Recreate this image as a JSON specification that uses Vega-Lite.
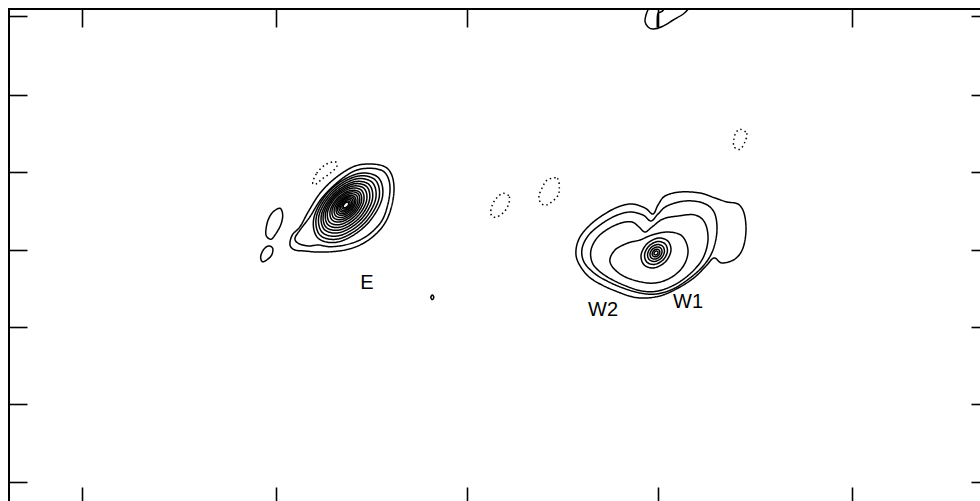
{
"$schema": "https://vega.github.io/schema/vega-lite/v6.json",
"width": 980, "height": 496,
"padding": {"left": 9, "top": 9, "right": 0, "bottom": 0},
"autosize": {"type": "none"},
"background": "white",
"config": {
 "view": {"stroke": "black", "strokeWidth": 2},
 "axis": {"labels": false, "domain": false, "grid": false, "ticks": true, "tickSize": -18, "tickColor": "black", "tickWidth": 1.6, "title": null}
},
"datasets": {
"closed": [
{"c":"E1","s":"p","o":0,"x":-113.7,"y":83.3},{"c":"E1","s":"p","o":1,"x":-98.7,"y":86},{"c":"E1","s":"p","o":2,"x":-83.7,"y":84},{"c":"E1","s":"p","o":3,"x":-76,"y":76.7},{"c":"E1","s":"p","o":4,"x":-73,"y":63.3},{"c":"E1","s":"p","o":5,"x":-74.7,"y":46.7},{"c":"E1","s":"p","o":6,"x":-80.3,"y":30},{"c":"E1","s":"p","o":7,"x":-90.3,"y":16.7},{"c":"E1","s":"p","o":8,"x":-103.7,"y":6.7},{"c":"E1","s":"p","o":9,"x":-118.7,"y":0.7},{"c":"E1","s":"p","o":10,"x":-135.3,"y":-1.7},{"c":"E1","s":"p","o":11,"x":-150.3,"y":-2},{"c":"E1","s":"p","o":12,"x":-162,"y":-1},{"c":"E1","s":"p","o":13,"x":-172,"y":0},{"c":"E1","s":"p","o":14,"x":-177,"y":5},{"c":"E1","s":"p","o":15,"x":-174.7,"y":15},{"c":"E1","s":"p","o":16,"x":-167,"y":23.3},{"c":"E1","s":"p","o":17,"x":-158.7,"y":38.3},{"c":"E1","s":"p","o":18,"x":-147,"y":56.7},{"c":"E1","s":"p","o":19,"x":-132,"y":71.7},
{"c":"E2","s":"p","o":0,"x":-112,"y":79.3},{"c":"E2","s":"p","o":1,"x":-97,"y":81.7},{"c":"E2","s":"p","o":2,"x":-84.7,"y":79.3},{"c":"E2","s":"p","o":3,"x":-78.7,"y":71.7},{"c":"E2","s":"p","o":4,"x":-77,"y":60},{"c":"E2","s":"p","o":5,"x":-79.3,"y":45},{"c":"E2","s":"p","o":6,"x":-84.7,"y":30},{"c":"E2","s":"p","o":7,"x":-94.7,"y":18.3},{"c":"E2","s":"p","o":8,"x":-107,"y":10},{"c":"E2","s":"p","o":9,"x":-122,"y":5},{"c":"E2","s":"p","o":10,"x":-137,"y":3.3},{"c":"E2","s":"p","o":11,"x":-148.7,"y":5},{"c":"E2","s":"p","o":12,"x":-158.7,"y":4},{"c":"E2","s":"p","o":13,"x":-168.7,"y":6.7},{"c":"E2","s":"p","o":14,"x":-172,"y":11.7},{"c":"E2","s":"p","o":15,"x":-167,"y":20},{"c":"E2","s":"p","o":16,"x":-157,"y":33.3},{"c":"E2","s":"p","o":17,"x":-145.3,"y":51.7},{"c":"E2","s":"p","o":18,"x":-128.7,"y":68.3},
{"c":"E4","s":"p","o":0,"x":-88.7,"y":72.4},{"c":"E4","s":"p","o":1,"x":-110.1,"y":76.1},{"c":"E4","s":"p","o":2,"x":-136.7,"y":60},{"c":"E4","s":"p","o":3,"x":-152.8,"y":33.4},{"c":"E4","s":"p","o":4,"x":-149.1,"y":12},{"c":"E4","s":"p","o":5,"x":-127.7,"y":8.3},{"c":"E4","s":"p","o":6,"x":-101.2,"y":24.5},{"c":"E4","s":"p","o":7,"x":-85,"y":51},
{"c":"E5","s":"p","o":0,"x":-91.7,"y":70},{"c":"E5","s":"p","o":1,"x":-111.3,"y":73.4},{"c":"E5","s":"p","o":2,"x":-135.5,"y":58.6},{"c":"E5","s":"p","o":3,"x":-150.3,"y":34.4},{"c":"E5","s":"p","o":4,"x":-146.9,"y":14.8},{"c":"E5","s":"p","o":5,"x":-127.3,"y":11.4},{"c":"E5","s":"p","o":6,"x":-103.1,"y":26.2},{"c":"E5","s":"p","o":7,"x":-88.3,"y":50.4},
{"c":"E6","s":"p","o":0,"x":-94.7,"y":67.6},{"c":"E6","s":"p","o":1,"x":-112.4,"y":70.7},{"c":"E6","s":"p","o":2,"x":-134.4,"y":57.3},{"c":"E6","s":"p","o":3,"x":-147.8,"y":35.3},{"c":"E6","s":"p","o":4,"x":-144.7,"y":17.6},{"c":"E6","s":"p","o":5,"x":-127,"y":14.5},{"c":"E6","s":"p","o":6,"x":-105,"y":27.9},{"c":"E6","s":"p","o":7,"x":-91.6,"y":49.9},
{"c":"E7","s":"p","o":0,"x":-97.7,"y":65.2},{"c":"E7","s":"p","o":1,"x":-113.6,"y":68},{"c":"E7","s":"p","o":2,"x":-133.3,"y":56},{"c":"E7","s":"p","o":3,"x":-145.3,"y":36.3},{"c":"E7","s":"p","o":4,"x":-142.5,"y":20.4},{"c":"E7","s":"p","o":5,"x":-126.6,"y":17.6},{"c":"E7","s":"p","o":6,"x":-106.9,"y":29.6},{"c":"E7","s":"p","o":7,"x":-94.9,"y":49.3},
{"c":"E8","s":"p","o":0,"x":-100.2,"y":63.3},{"c":"E8","s":"p","o":1,"x":-114.6,"y":65.8},{"c":"E8","s":"p","o":2,"x":-132.4,"y":54.9},{"c":"E8","s":"p","o":3,"x":-143.3,"y":37.1},{"c":"E8","s":"p","o":4,"x":-140.8,"y":22.7},{"c":"E8","s":"p","o":5,"x":-126.4,"y":20.3},{"c":"E8","s":"p","o":6,"x":-108.6,"y":31.1},{"c":"E8","s":"p","o":7,"x":-97.8,"y":48.9},
{"c":"E9","s":"p","o":0,"x":-102.8,"y":61.4},{"c":"E9","s":"p","o":1,"x":-115.6,"y":63.6},{"c":"E9","s":"p","o":2,"x":-131.6,"y":54},{"c":"E9","s":"p","o":3,"x":-141.2,"y":38},{"c":"E9","s":"p","o":4,"x":-139,"y":25.2},{"c":"E9","s":"p","o":5,"x":-126.2,"y":23},{"c":"E9","s":"p","o":6,"x":-110.3,"y":32.7},{"c":"E9","s":"p","o":7,"x":-100.6,"y":48.6},
{"c":"E10","s":"p","o":0,"x":-105.4,"y":59.6},{"c":"E10","s":"p","o":1,"x":-116.7,"y":61.5},{"c":"E10","s":"p","o":2,"x":-130.7,"y":53},{"c":"E10","s":"p","o":3,"x":-139.2,"y":39},{"c":"E10","s":"p","o":4,"x":-137.3,"y":27.7},{"c":"E10","s":"p","o":5,"x":-125.9,"y":25.7},{"c":"E10","s":"p","o":6,"x":-111.9,"y":34.2},{"c":"E10","s":"p","o":7,"x":-103.4,"y":48.2},
{"c":"E11","s":"p","o":0,"x":-107.4,"y":57.7},{"c":"E11","s":"p","o":1,"x":-117.2,"y":59.4},{"c":"E11","s":"p","o":2,"x":-129.3,"y":52},{"c":"E11","s":"p","o":3,"x":-136.7,"y":39.9},{"c":"E11","s":"p","o":4,"x":-135,"y":30.1},{"c":"E11","s":"p","o":5,"x":-125.2,"y":28.4},{"c":"E11","s":"p","o":6,"x":-113.1,"y":35.8},{"c":"E11","s":"p","o":7,"x":-105.7,"y":47.9},
{"c":"E12","s":"p","o":0,"x":-109,"y":56.3},{"c":"E12","s":"p","o":1,"x":-117.6,"y":57.8},{"c":"E12","s":"p","o":2,"x":-128.2,"y":51.3},{"c":"E12","s":"p","o":3,"x":-134.7,"y":40.7},{"c":"E12","s":"p","o":4,"x":-133.2,"y":32.1},{"c":"E12","s":"p","o":5,"x":-124.6,"y":30.7},{"c":"E12","s":"p","o":6,"x":-114,"y":37.1},{"c":"E12","s":"p","o":7,"x":-107.6,"y":47.7},
{"c":"E13","s":"p","o":0,"x":-110.7,"y":54.7},{"c":"E13","s":"p","o":1,"x":-118,"y":56},{"c":"E13","s":"p","o":2,"x":-127.1,"y":50.5},{"c":"E13","s":"p","o":3,"x":-132.6,"y":41.4},{"c":"E13","s":"p","o":4,"x":-131.3,"y":34.1},{"c":"E13","s":"p","o":5,"x":-124,"y":32.8},{"c":"E13","s":"p","o":6,"x":-114.9,"y":38.3},{"c":"E13","s":"p","o":7,"x":-109.4,"y":47.4},
{"c":"E14","s":"p","o":0,"x":-112.4,"y":53.2},{"c":"E14","s":"p","o":1,"x":-118.5,"y":54.3},{"c":"E14","s":"p","o":2,"x":-126.1,"y":49.7},{"c":"E14","s":"p","o":3,"x":-130.7,"y":42.1},{"c":"E14","s":"p","o":4,"x":-129.6,"y":36},{"c":"E14","s":"p","o":5,"x":-123.5,"y":34.9},{"c":"E14","s":"p","o":6,"x":-115.9,"y":39.5},{"c":"E14","s":"p","o":7,"x":-111.3,"y":47.1},
{"c":"E15","s":"p","o":0,"x":-113.7,"y":52.1},{"c":"E15","s":"p","o":1,"x":-118.9,"y":53},{"c":"E15","s":"p","o":2,"x":-125.3,"y":49.1},{"c":"E15","s":"p","o":3,"x":-129.2,"y":42.7},{"c":"E15","s":"p","o":4,"x":-128.3,"y":37.5},{"c":"E15","s":"p","o":5,"x":-123.1,"y":36.6},{"c":"E15","s":"p","o":6,"x":-116.7,"y":40.5},{"c":"E15","s":"p","o":7,"x":-112.8,"y":46.9},
{"c":"E16","s":"p","o":0,"x":-115,"y":51},{"c":"E16","s":"p","o":1,"x":-119.2,"y":51.8},{"c":"E16","s":"p","o":2,"x":-124.6,"y":48.6},{"c":"E16","s":"p","o":3,"x":-127.8,"y":43.2},{"c":"E16","s":"p","o":4,"x":-127,"y":39},{"c":"E16","s":"p","o":5,"x":-122.8,"y":38.2},{"c":"E16","s":"p","o":6,"x":-117.5,"y":41.5},{"c":"E16","s":"p","o":7,"x":-114.2,"y":46.8},
{"c":"E17","s":"p","o":0,"x":-116.3,"y":49.7},{"c":"E17","s":"p","o":1,"x":-119.6,"y":50.3},{"c":"E17","s":"p","o":2,"x":-123.8,"y":47.8},{"c":"E17","s":"p","o":3,"x":-126.3,"y":43.6},{"c":"E17","s":"p","o":4,"x":-125.7,"y":40.3},{"c":"E17","s":"p","o":5,"x":-122.4,"y":39.7},{"c":"E17","s":"p","o":6,"x":-118.2,"y":42.2},{"c":"E17","s":"p","o":7,"x":-115.7,"y":46.4},
{"c":"E18","s":"p","o":0,"x":-117.6,"y":48.5},{"c":"E18","s":"p","o":1,"x":-120,"y":48.9},{"c":"E18","s":"p","o":2,"x":-123,"y":47},{"c":"E18","s":"p","o":3,"x":-124.9,"y":44},{"c":"E18","s":"p","o":4,"x":-124.5,"y":41.6},{"c":"E18","s":"p","o":5,"x":-122,"y":41.1},{"c":"E18","s":"p","o":6,"x":-119,"y":43},{"c":"E18","s":"p","o":7,"x":-117.1,"y":46},
{"c":"E19","s":"p","o":0,"x":-118.6,"y":47.4},{"c":"E19","s":"p","o":1,"x":-120.3,"y":47.7},{"c":"E19","s":"p","o":2,"x":-122.4,"y":46.4},{"c":"E19","s":"p","o":3,"x":-123.7,"y":44.3},{"c":"E19","s":"p","o":4,"x":-123.4,"y":42.6},{"c":"E19","s":"p","o":5,"x":-121.7,"y":42.3},{"c":"E19","s":"p","o":6,"x":-119.6,"y":43.6},{"c":"E19","s":"p","o":7,"x":-118.3,"y":45.7},
{"c":"EL1","s":"p","o":0,"x":-193.7,"y":38.3},{"c":"EL1","s":"p","o":1,"x":-187,"y":41.7},{"c":"EL1","s":"p","o":2,"x":-184.3,"y":35},{"c":"EL1","s":"p","o":3,"x":-186.3,"y":25},{"c":"EL1","s":"p","o":4,"x":-192,"y":15},{"c":"EL1","s":"p","o":5,"x":-196.3,"y":10.7},{"c":"EL1","s":"p","o":6,"x":-201,"y":15},{"c":"EL1","s":"p","o":7,"x":-200.3,"y":25},{"c":"EL1","s":"p","o":8,"x":-197.7,"y":32.7},
{"c":"EL2","s":"p","o":0,"x":-198.7,"y":4},{"c":"EL2","s":"p","o":1,"x":-194.3,"y":1.7},{"c":"EL2","s":"p","o":2,"x":-195.3,"y":-5},{"c":"EL2","s":"p","o":3,"x":-200.3,"y":-10},{"c":"EL2","s":"p","o":4,"x":-204.7,"y":-11.7},{"c":"EL2","s":"p","o":5,"x":-206.3,"y":-6.7},{"c":"EL2","s":"p","o":6,"x":-203.7,"y":0},
{"c":"ED","s":"n","o":0,"x":-154.3,"y":67.3},{"c":"ED","s":"n","o":1,"x":-150.3,"y":76.7},{"c":"ED","s":"n","o":2,"x":-142,"y":85},{"c":"ED","s":"n","o":3,"x":-132,"y":88.3},{"c":"ED","s":"n","o":4,"x":-130.3,"y":83.3},{"c":"ED","s":"n","o":5,"x":-137,"y":76.7},{"c":"ED","s":"n","o":6,"x":-145.3,"y":70.7},{"c":"ED","s":"n","o":7,"x":-151,"y":66},
{"c":"DOT","s":"p","o":0,"x":-34.7,"y":-45},{"c":"DOT","s":"p","o":1,"x":-33.2,"y":-47.3},{"c":"DOT","s":"p","o":2,"x":-34.7,"y":-49.6},{"c":"DOT","s":"p","o":3,"x":-36.2,"y":-47.3},
{"c":"MD1","s":"n","o":0,"x":36.3,"y":56.7},{"c":"MD1","s":"n","o":1,"x":42.3,"y":53.3},{"c":"MD1","s":"n","o":2,"x":41.3,"y":45},{"c":"MD1","s":"n","o":3,"x":36.3,"y":37.3},{"c":"MD1","s":"n","o":4,"x":28,"y":32.7},{"c":"MD1","s":"n","o":5,"x":23.7,"y":36.7},{"c":"MD1","s":"n","o":6,"x":25.7,"y":46},{"c":"MD1","s":"n","o":7,"x":30.3,"y":52.7},
{"c":"MD2","s":"n","o":0,"x":80.3,"y":70},{"c":"MD2","s":"n","o":1,"x":90.3,"y":71.7},{"c":"MD2","s":"n","o":2,"x":92.3,"y":60.7},{"c":"MD2","s":"n","o":3,"x":89.7,"y":52.7},{"c":"MD2","s":"n","o":4,"x":79.7,"y":45},{"c":"MD2","s":"n","o":5,"x":73.7,"y":47.3},{"c":"MD2","s":"n","o":6,"x":72,"y":54},{"c":"MD2","s":"n","o":7,"x":75.7,"y":63.3},
{"c":"UD","s":"n","o":0,"x":273,"y":120.7},{"c":"UD","s":"n","o":1,"x":279.7,"y":116.7},{"c":"UD","s":"n","o":2,"x":278,"y":108.3},{"c":"UD","s":"n","o":3,"x":273,"y":100.7},{"c":"UD","s":"n","o":4,"x":267,"y":103.3},{"c":"UD","s":"n","o":5,"x":267,"y":111.7},{"c":"UD","s":"n","o":6,"x":269,"y":117.3},
{"c":"W1","s":"p","o":0,"x":111,"y":-12},{"c":"W1","s":"p","o":1,"x":109,"y":0},{"c":"W1","s":"p","o":2,"x":113,"y":13},{"c":"W1","s":"p","o":3,"x":123,"y":25},{"c":"W1","s":"p","o":4,"x":136,"y":35},{"c":"W1","s":"p","o":5,"x":151,"y":43},{"c":"W1","s":"p","o":6,"x":165,"y":46},{"c":"W1","s":"p","o":7,"x":178,"y":42},{"c":"W1","s":"p","o":8,"x":186,"y":36},{"c":"W1","s":"p","o":9,"x":191,"y":45},{"c":"W1","s":"p","o":10,"x":198,"y":54},{"c":"W1","s":"p","o":11,"x":213,"y":58},{"c":"W1","s":"p","o":12,"x":233,"y":57},{"c":"W1","s":"p","o":13,"x":248,"y":52},{"c":"W1","s":"p","o":14,"x":260,"y":48},{"c":"W1","s":"p","o":15,"x":271,"y":46},{"c":"W1","s":"p","o":16,"x":277,"y":37},{"c":"W1","s":"p","o":17,"x":279,"y":20},{"c":"W1","s":"p","o":18,"x":276,"y":2},{"c":"W1","s":"p","o":19,"x":268,"y":-9},{"c":"W1","s":"p","o":20,"x":255,"y":-13},{"c":"W1","s":"p","o":21,"x":247,"y":-8},{"c":"W1","s":"p","o":22,"x":239,"y":-16},{"c":"W1","s":"p","o":23,"x":228,"y":-27},{"c":"W1","s":"p","o":24,"x":213,"y":-37},{"c":"W1","s":"p","o":25,"x":196,"y":-45},{"c":"W1","s":"p","o":26,"x":180,"y":-48},{"c":"W1","s":"p","o":27,"x":166,"y":-47},{"c":"W1","s":"p","o":28,"x":151,"y":-42},{"c":"W1","s":"p","o":29,"x":135,"y":-35},{"c":"W1","s":"p","o":30,"x":121,"y":-26},
{"c":"W2","s":"p","o":0,"x":117,"y":-12},{"c":"W2","s":"p","o":1,"x":115,"y":1},{"c":"W2","s":"p","o":2,"x":121,"y":14},{"c":"W2","s":"p","o":3,"x":133,"y":25},{"c":"W2","s":"p","o":4,"x":148,"y":34},{"c":"W2","s":"p","o":5,"x":163,"y":38},{"c":"W2","s":"p","o":6,"x":176,"y":35},{"c":"W2","s":"p","o":7,"x":184,"y":29},{"c":"W2","s":"p","o":8,"x":191,"y":36},{"c":"W2","s":"p","o":9,"x":200,"y":44},{"c":"W2","s":"p","o":10,"x":218,"y":49},{"c":"W2","s":"p","o":11,"x":236,"y":47},{"c":"W2","s":"p","o":12,"x":247,"y":38},{"c":"W2","s":"p","o":13,"x":250,"y":20},{"c":"W2","s":"p","o":14,"x":246,"y":0},{"c":"W2","s":"p","o":15,"x":237,"y":-15},{"c":"W2","s":"p","o":16,"x":223,"y":-28},{"c":"W2","s":"p","o":17,"x":206,"y":-39},{"c":"W2","s":"p","o":18,"x":189,"y":-44},{"c":"W2","s":"p","o":19,"x":173,"y":-43},{"c":"W2","s":"p","o":20,"x":156,"y":-38},{"c":"W2","s":"p","o":21,"x":140,"y":-31},{"c":"W2","s":"p","o":22,"x":127,"y":-23},
{"c":"W3","s":"p","o":0,"x":125,"y":-12},{"c":"W3","s":"p","o":1,"x":124,"y":0},{"c":"W3","s":"p","o":2,"x":130,"y":12},{"c":"W3","s":"p","o":3,"x":141,"y":21},{"c":"W3","s":"p","o":4,"x":154,"y":27},{"c":"W3","s":"p","o":5,"x":165,"y":28},{"c":"W3","s":"p","o":6,"x":172,"y":23},{"c":"W3","s":"p","o":7,"x":178,"y":18},{"c":"W3","s":"p","o":8,"x":185,"y":23},{"c":"W3","s":"p","o":9,"x":196,"y":31},{"c":"W3","s":"p","o":10,"x":211,"y":34},{"c":"W3","s":"p","o":11,"x":228,"y":35},{"c":"W3","s":"p","o":12,"x":238,"y":27},{"c":"W3","s":"p","o":13,"x":241,"y":10},{"c":"W3","s":"p","o":14,"x":236,"y":-8},{"c":"W3","s":"p","o":15,"x":225,"y":-22},{"c":"W3","s":"p","o":16,"x":209,"y":-34},{"c":"W3","s":"p","o":17,"x":191,"y":-41},{"c":"W3","s":"p","o":18,"x":175,"y":-41},{"c":"W3","s":"p","o":19,"x":159,"y":-36},{"c":"W3","s":"p","o":20,"x":144,"y":-29},{"c":"W3","s":"p","o":21,"x":132,"y":-21},
{"c":"W4","s":"p","o":0,"x":143,"y":-12},{"c":"W4","s":"p","o":1,"x":148,"y":0},{"c":"W4","s":"p","o":2,"x":161,"y":7},{"c":"W4","s":"p","o":3,"x":173,"y":10},{"c":"W4","s":"p","o":4,"x":185,"y":15},{"c":"W4","s":"p","o":5,"x":201,"y":18},{"c":"W4","s":"p","o":6,"x":215,"y":14},{"c":"W4","s":"p","o":7,"x":221,"y":0},{"c":"W4","s":"p","o":8,"x":217,"y":-15},{"c":"W4","s":"p","o":9,"x":205,"y":-27},{"c":"W4","s":"p","o":10,"x":188,"y":-33},{"c":"W4","s":"p","o":11,"x":170,"y":-31},{"c":"W4","s":"p","o":12,"x":153,"y":-24},
{"c":"WA","s":"p","o":0,"x":200.9,"y":8.9},{"c":"WA","s":"p","o":1,"x":191,"y":11.9},{"c":"WA","s":"p","o":2,"x":179.9,"y":6.1},{"c":"WA","s":"p","o":3,"x":174.1,"y":-4.95},{"c":"WA","s":"p","o":4,"x":177.1,"y":-14.9},{"c":"WA","s":"p","o":5,"x":187,"y":-17.9},{"c":"WA","s":"p","o":6,"x":198.1,"y":-12.1},{"c":"WA","s":"p","o":7,"x":203.9,"y":-1.05},
{"c":"WB","s":"p","o":0,"x":198.1,"y":6.1},{"c":"WB","s":"p","o":1,"x":190.5,"y":8.4},{"c":"WB","s":"p","o":2,"x":182,"y":4},{"c":"WB","s":"p","o":3,"x":177.6,"y":-4.5},{"c":"WB","s":"p","o":4,"x":179.9,"y":-12.1},{"c":"WB","s":"p","o":5,"x":187.5,"y":-14.4},{"c":"WB","s":"p","o":6,"x":196,"y":-10},{"c":"WB","s":"p","o":7,"x":200.4,"y":-1.5},
{"c":"WC","s":"p","o":0,"x":195.7,"y":3.7},{"c":"WC","s":"p","o":1,"x":190.1,"y":5.4},{"c":"WC","s":"p","o":2,"x":183.8,"y":2.2},{"c":"WC","s":"p","o":3,"x":180.6,"y":-4.1},{"c":"WC","s":"p","o":4,"x":182.3,"y":-9.7},{"c":"WC","s":"p","o":5,"x":187.9,"y":-11.4},{"c":"WC","s":"p","o":6,"x":194.2,"y":-8.2},{"c":"WC","s":"p","o":7,"x":197.4,"y":-1.9},
{"c":"WD","s":"p","o":0,"x":193.8,"y":1.8},{"c":"WD","s":"p","o":1,"x":189.8,"y":3},{"c":"WD","s":"p","o":2,"x":185.3,"y":0.65},{"c":"WD","s":"p","o":3,"x":183,"y":-3.8},{"c":"WD","s":"p","o":4,"x":184.2,"y":-7.8},{"c":"WD","s":"p","o":5,"x":188.2,"y":-9},{"c":"WD","s":"p","o":6,"x":192.7,"y":-6.65},{"c":"WD","s":"p","o":7,"x":195,"y":-2.2},
{"c":"WE","s":"p","o":0,"x":192,"y":0},{"c":"WE","s":"p","o":1,"x":189.5,"y":0.8},{"c":"WE","s":"p","o":2,"x":186.7,"y":-0.7},{"c":"WE","s":"p","o":3,"x":185.2,"y":-3.5},{"c":"WE","s":"p","o":4,"x":186,"y":-6},{"c":"WE","s":"p","o":5,"x":188.5,"y":-6.8},{"c":"WE","s":"p","o":6,"x":191.3,"y":-5.3},{"c":"WE","s":"p","o":7,"x":192.8,"y":-2.5},
{"c":"WF","s":"p","o":0,"x":190.6,"y":-1.4},{"c":"WF","s":"p","o":1,"x":189.3,"y":-1},{"c":"WF","s":"p","o":2,"x":187.8,"y":-1.8},{"c":"WF","s":"p","o":3,"x":187,"y":-3.3},{"c":"WF","s":"p","o":4,"x":187.4,"y":-4.6},{"c":"WF","s":"p","o":5,"x":188.7,"y":-5},{"c":"WF","s":"p","o":6,"x":190.2,"y":-4.2},{"c":"WF","s":"p","o":7,"x":191,"y":-2.7}
],
"open": [
{"c":"T1","o":0,"x":181.3,"y":241},{"c":"T1","o":1,"x":179,"y":235},{"c":"T1","o":2,"x":178,"y":228.3},{"c":"T1","o":3,"x":181.3,"y":222.7},{"c":"T1","o":4,"x":186.3,"y":221},{"c":"T1","o":5,"x":194.7,"y":223.3},{"c":"T1","o":6,"x":206.3,"y":230},{"c":"T1","o":7,"x":216.3,"y":236},{"c":"T1","o":8,"x":221.3,"y":241},
{"c":"T2","o":0,"x":190.3,"y":222.7},{"c":"T2","o":1,"x":190.3,"y":231.7},{"c":"T2","o":2,"x":191,"y":236.7},{"c":"T2","o":3,"x":194.7,"y":238.3},{"c":"T2","o":4,"x":197,"y":241}
],
"labels": [
{"t":"E","x":-100,"y":-33},{"t":"W2","x":136,"y":-60},{"t":"W1","x":221,"y":-52}
]
},
"layer": [
{
 "data": {"name": "closed"},
 "mark": {"type": "line", "interpolate": "cardinal-closed", "strokeWidth": 1.5, "color": "black"},
 "encoding": {
  "x": {"field": "x", "type": "quantitative", "scale": {"domain": [-458, 522], "nice": false, "zero": false}, "axis": {"orient": "bottom", "values": [-385, -191, 0, 191, 385]}},
  "y": {"field": "y", "type": "quantitative", "scale": {"domain": [-255, 241], "nice": false, "zero": false}, "axis": {"orient": "left", "values": [234, 155, 78, 0, -77, -154, -232]}},
  "detail": {"field": "c", "type": "nominal"},
  "order": {"field": "o", "type": "quantitative"},
  "strokeDash": {"field": "s", "type": "nominal", "scale": {"domain": ["p", "n"], "range": [[1, 0], [1.5, 3]]}, "legend": null}
 }
},
{
 "data": {"name": "open"},
 "mark": {"type": "line", "interpolate": "cardinal", "strokeWidth": 1.5, "color": "black"},
 "encoding": {
  "x": {"field": "x", "type": "quantitative", "scale": {"domain": [-458, 522], "nice": false, "zero": false}, "axis": {"orient": "top", "values": [-385, -191, 0, 191, 385]}},
  "y": {"field": "y", "type": "quantitative", "scale": {"domain": [-255, 241], "nice": false, "zero": false}, "axis": {"orient": "right", "values": [234, 155, 78, 0, -77, -154, -232]}},
  "detail": {"field": "c", "type": "nominal"},
  "order": {"field": "o", "type": "quantitative"}
 }
},
{
 "data": {"name": "labels"},
 "mark": {"type": "text", "font": "Liberation Sans", "fontSize": 20, "color": "black", "align": "center", "baseline": "middle"},
 "encoding": {
  "x": {"field": "x", "type": "quantitative", "scale": {"domain": [-458, 522], "nice": false, "zero": false}, "axis": null},
  "y": {"field": "y", "type": "quantitative", "scale": {"domain": [-255, 241], "nice": false, "zero": false}, "axis": null},
  "text": {"field": "t", "type": "nominal"}
 }
}
],
"resolve": {"scale": {"x": "independent", "y": "independent"}}
}
